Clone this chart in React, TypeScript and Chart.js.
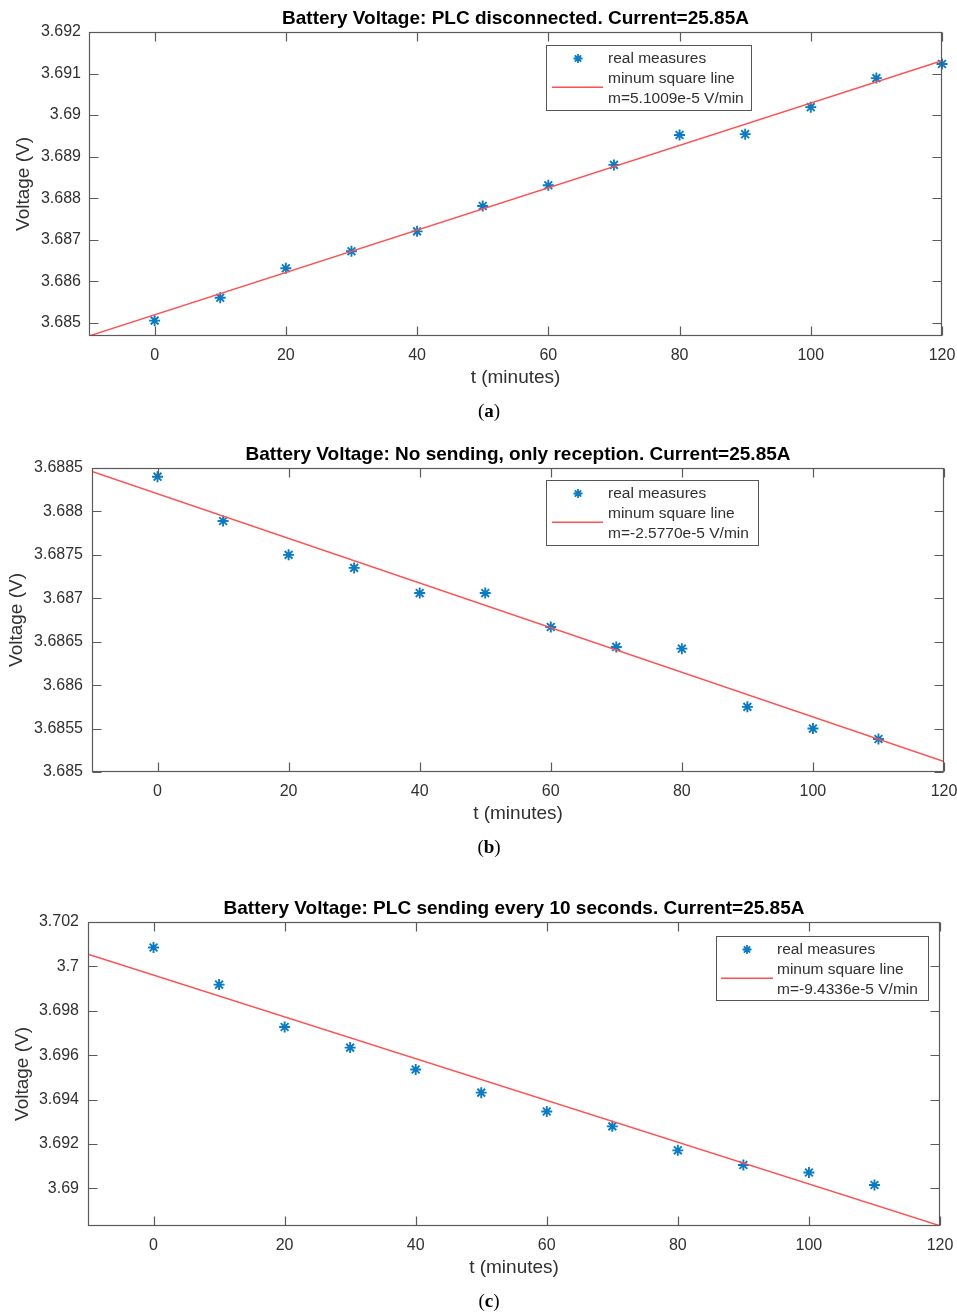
import React, { useEffect, useRef } from 'react';
import { Chart, registerables } from 'chart.js';

Chart.register(...registerables);

// ---------- data ----------
const timeA = [0, 10, 20, 30, 40, 50, 60, 70, 80, 90, 100, 110, 120];
const voltA = [3.68505, 3.6856, 3.68631, 3.68672, 3.6872, 3.68781, 3.68831, 3.6888, 3.68952, 3.68954, 3.69019, 3.69089, 3.69123];

const timeB = [0, 10, 20, 30, 40, 50, 60, 70, 80, 90, 100, 110];
const voltB = [3.6884, 3.68789, 3.6875, 3.68735, 3.68706, 3.68706, 3.68667, 3.68644, 3.68642, 3.68575, 3.6855, 3.68538];

const timeC = [0, 10, 20, 30, 40, 50, 60, 70, 80, 90, 100, 110];
const voltC = [3.70085, 3.69918, 3.69727, 3.69634, 3.69535, 3.69431, 3.69346, 3.69279, 3.69171, 3.69105, 3.69071, 3.69015];

const fitTime = [-10, 120];
const fitA = [3.68468, 3.69131];
const fitB = [3.68846, 3.68512];
const fitC = [3.70055, 3.68831];

const xTickLabels = ['0', '20', '40', '60', '80', '100', '120'];
const yTickLabelsA = ['3.685', '3.686', '3.687', '3.688', '3.689', '3.69', '3.691', '3.692'];
const yTickLabelsB = ['3.685', '3.6855', '3.686', '3.6865', '3.687', '3.6875', '3.688', '3.6885'];
const yTickLabelsC = ['3.69', '3.692', '3.694', '3.696', '3.698', '3.7', '3.702'];

const chartTitles = [
  'Battery Voltage: PLC disconnected. Current=25.85A',
  'Battery Voltage: No sending, only reception. Current=25.85A',
  'Battery Voltage: PLC sending every 10 seconds. Current=25.85A',
];
const slopeLabels = ['m=5.1009e-5 V/min', 'm=-2.5770e-5 V/min', 'm=-9.4336e-5 V/min'];
const seriesNames = ['real measures', 'minum square line'];
const captionLetters = ['a', 'b', 'c'];
const xAxisTitle = 't (minutes)';
const yAxisTitle = 'Voltage (V)';

// ---------- styling ----------
const FONT = '"Liberation Sans", Arial, Helvetica, sans-serif';
const BLUE = '#0A7CC6';
const RED = 'rgb(255, 80, 80)';
const AXIS = '#5a5a5a';
const TEXT = '#303030';
const W = 957;
const H = 400;

type Panel = {
  top: number;
  left: number;
  right: number;
  yMin: number;
  yMax: number;
  yTitleX: number;
  yTickPad: number;
  time: number[];
  volt: number[];
  fit: number[];
  yLabels: string[];
  legend: { x: number; y: number; w: number; h: number; icon0: number; icon1: number; starX: number; textX: number };
};

const panels: Panel[] = [
  {
    top: 0, left: 89, right: 942, yMin: 3.68468, yMax: 3.692, yTitleX: 24, yTickPad: 8,
    time: timeA, volt: voltA, fit: fitA, yLabels: yTickLabelsA,
    legend: { x: 546, y: 45, w: 205, h: 65, icon0: 552, icon1: 603, starX: 578, textX: 608 },
  },
  {
    top: 436, left: 92, right: 944, yMin: 3.685, yMax: 3.6885, yTitleX: 16.5, yTickPad: 9,
    time: timeB, volt: voltB, fit: fitB, yLabels: yTickLabelsB,
    legend: { x: 546, y: 44, w: 212, h: 65, icon0: 552, icon1: 603, starX: 578, textX: 608 },
  },
  {
    top: 890, left: 88, right: 940, yMin: 3.6883, yMax: 3.702, yTitleX: 22.5, yTickPad: 9,
    time: timeC, volt: voltC, fit: fitC, yLabels: yTickLabelsC,
    legend: { x: 716, y: 46, w: 212, h: 64, icon0: 721, icon1: 773, starX: 747, textX: 777 },
  },
];

function drawStar(ctx: CanvasRenderingContext2D, cx: number, cy: number, r: number) {
  const d = r * Math.SQRT1_2;
  ctx.beginPath();
  ctx.moveTo(cx - r, cy); ctx.lineTo(cx + r, cy);
  ctx.moveTo(cx, cy - r); ctx.lineTo(cx, cy + r);
  ctx.moveTo(cx - d, cy - d); ctx.lineTo(cx + d, cy + d);
  ctx.moveTo(cx - d, cy + d); ctx.lineTo(cx + d, cy - d);
  ctx.stroke();
}

function ChartPanel({ p, idx }: { p: Panel; idx: number }) {
  const ref = useRef<HTMLCanvasElement | null>(null);

  useEffect(() => {
    if (!ref.current) return;
    const frame = {
      id: 'frame' + idx,
      afterDraw(chart: any) {
        const { ctx, chartArea } = chart;
        const { left, right, top, bottom } = chartArea;
        const xs = chart.scales.x;
        const ys = chart.scales.y;
        ctx.save();
        ctx.strokeStyle = AXIS;
        ctx.lineWidth = 1.2;
        const L = Math.round(left) + 0.5, R = Math.round(right) - 0.5;
        const T = Math.round(top) + 0.5, B = Math.round(bottom) - 0.5;
        ctx.strokeRect(L, T, R - L, B - T);
        const tl = 9;
        ctx.beginPath();
        xs.ticks.forEach((t: any) => {
          const px = Math.round(xs.getPixelForValue(t.value)) + 0.5;
          ctx.moveTo(px, B); ctx.lineTo(px, B - tl);
          ctx.moveTo(px, T); ctx.lineTo(px, T + tl);
        });
        ys.ticks.forEach((t: any) => {
          const py = Math.round(ys.getPixelForValue(t.value)) + 0.5;
          ctx.moveTo(L, py); ctx.lineTo(L + tl, py);
          ctx.moveTo(R, py); ctx.lineTo(R - tl, py);
        });
        ctx.stroke();

        // legend
        const lg = p.legend;
        ctx.fillStyle = '#fff';
        ctx.fillRect(lg.x, lg.y, lg.w, lg.h);
        ctx.strokeStyle = '#555';
        ctx.lineWidth = 1;
        ctx.strokeRect(lg.x + 0.5, lg.y + 0.5, lg.w, lg.h);
        ctx.strokeStyle = BLUE;
        ctx.lineWidth = 1.8;
        drawStar(ctx, lg.starX, lg.y + 13.5, 4.5);
        ctx.strokeStyle = RED;
        ctx.lineWidth = 1.4;
        ctx.beginPath();
        ctx.moveTo(lg.icon0, lg.y + 42.3);
        ctx.lineTo(lg.icon1, lg.y + 42.3);
        ctx.stroke();
        ctx.fillStyle = TEXT;
        ctx.font = `15.5px ${FONT}`;
        ctx.textBaseline = 'middle';
        ctx.textAlign = 'left';
        ctx.fillText(seriesNames[0], lg.textX, lg.y + 13.5);
        ctx.fillText(seriesNames[1], lg.textX, lg.y + 34);
        ctx.fillText(slopeLabels[idx], lg.textX, lg.y + 53.5);
        ctx.restore();
      },
    };

    const chart = new Chart(ref.current, {
      type: 'scatter',
      data: {
        datasets: [
          {
            label: seriesNames[0],
            data: p.time.map((t, i) => ({ x: t, y: p.volt[i] })),
            showLine: false,
            pointStyle: 'star',
            pointRadius: 5.5,
            pointBorderWidth: 1.9,
            borderColor: BLUE,
            backgroundColor: BLUE,
            clip: false as any,
            order: 1,
          },
          {
            label: seriesNames[1],
            data: fitTime.map((t, i) => ({ x: t, y: p.fit[i] })),
            showLine: true,
            pointRadius: 0,
            borderColor: RED,
            borderWidth: 1.4,
            order: 0,
          } as any,
        ],
      },
      options: {
        responsive: false,
        animation: false,
        layout: { padding: { left: 0, right: W - p.right, top: 0, bottom: 0 } },
        plugins: {
          legend: { display: false },
          tooltip: { enabled: false },
          title: {
            display: true,
            text: chartTitles[idx],
            fullSize: false,
            color: '#000',
            font: { family: FONT, size: 19, weight: 'bold' },
            padding: { top: 7.4, bottom: 1.8 },
          },
        },
        scales: {
          x: {
            type: 'linear',
            position: 'bottom',
            min: -10,
            max: 120,
            grid: { display: false, drawTicks: false },
            border: { display: false },
            afterBuildTicks: (s: any) => {
              s.ticks = xTickLabels.map((l) => ({ value: parseFloat(l) }));
            },
            afterFit: (s: any) => {
              s.height = H - 336;
              s.paddingLeft = 0;
              s.paddingRight = 0;
            },
            ticks: {
              autoSkip: false,
              maxRotation: 0,
              padding: 10,
              color: TEXT,
              font: { family: FONT, size: 16 },
              callback: (_v: any, i: number) => xTickLabels[i],
            },
            title: {
              display: true,
              text: xAxisTitle,
              color: TEXT,
              font: { family: FONT, size: 19 },
              padding: { top: 0, bottom: 10.6 },
            },
          },
          y: {
            type: 'linear',
            min: p.yMin,
            max: p.yMax,
            grid: { display: false, drawTicks: false },
            border: { display: false },
            afterBuildTicks: (s: any) => {
              s.ticks = p.yLabels.map((l) => ({ value: parseFloat(l) }));
            },
            afterFit: (s: any) => {
              s.width = p.left;
              s.paddingTop = 0;
              s.paddingBottom = 0;
            },
            ticks: {
              autoSkip: false,
              padding: p.yTickPad,
              color: TEXT,
              font: { family: FONT, size: 16 },
              callback: (_v: any, i: number) => p.yLabels[i],
            },
            title: {
              display: true,
              text: yAxisTitle,
              color: TEXT,
              font: { family: FONT, size: 19 },
              padding: { top: p.yTitleX - 11.4, bottom: 0 },
            },
          },
        },
      } as any,
      plugins: [frame],
    });
    return () => chart.destroy();
  }, [p, idx]);

  return (
    <>
      <canvas
        ref={ref}
        width={W}
        height={H}
        style={{ position: 'absolute', left: 0, top: p.top, width: W, height: H, display: 'block' }}
      />
      <div
        style={{
          position: 'absolute',
          left: 0,
          top: p.top + 411 - 12,
          width: 978,
          textAlign: 'center',
          fontFamily: '"Liberation Serif", "Times New Roman", serif',
          fontSize: 19,
          lineHeight: '24px',
          color: '#000',
        }}
      >
        (<b>{captionLetters[idx]}</b>)
      </div>
    </>
  );
}

export default function App() {
  return (
    <div style={{ position: 'absolute', left: 0, top: 0, width: W, height: 1315, background: '#fff' }}>
      {panels.map((p, i) => (
        <ChartPanel key={i} p={p} idx={i} />
      ))}
    </div>
  );
}
